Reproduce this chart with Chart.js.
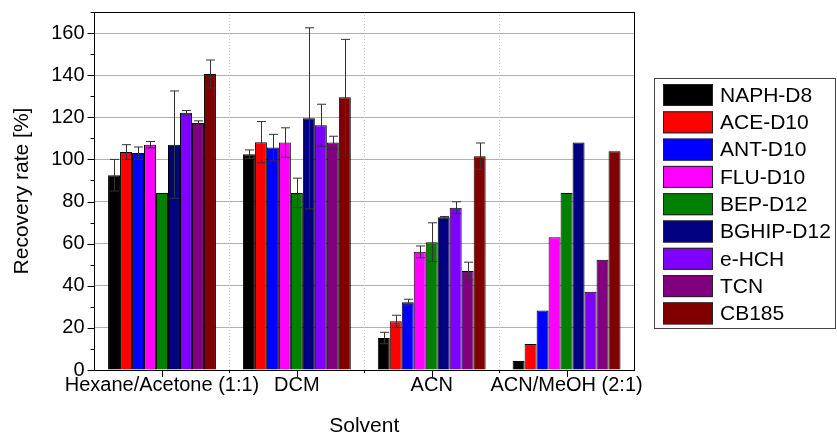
<!DOCTYPE html>
<html>
<head>
<meta charset="utf-8">
<script src="https://cdn.jsdelivr.net/npm/chart.js@4.4.0/dist/chart.umd.min.js"></script>
<style>
  html, body { margin: 0; padding: 0; background: #fff; }
  #wrap { width: 837px; height: 433px; }
</style>
</head>
<body>
<div id="wrap"><canvas id="stage"></canvas></div>
<script>
// solvents (x categories)
const solvents = ['Hexane/Acetone (1:1)', 'DCM', 'ACN', 'ACN/MeOH (2:1)'];
const compounds = ['NAPH-D8', 'ACE-D10', 'ANT-D10', 'FLU-D10', 'BEP-D12', 'BGHIP-D12', 'e-HCH', 'TCN', 'CB185'];
const colors = ['#000000', '#ff0000', '#0000ff', '#ff00ff', '#008000', '#000080', '#8000ff', '#800080', '#800000'];

// recovery rate [%] per solvent
const naph  = [92.5, 102.5, 15.2, 4.3];
const ace   = [103.5, 108.2, 23.1, 12.4];
const ant   = [103.0, 105.6, 32.2, 28.2];
const flu   = [107.0, 108.0, 56.1, 63.0];
const bep   = [84.0, 84.1, 60.7, 84.0];
const bghip = [107.0, 119.5, 72.5, 108.0];
const ehch  = [122.2, 116.2, 77.1, 37.1];
const tcn   = [117.3, 108.0, 47.0, 52.3];
const cb185 = [140.6, 129.5, 101.5, 103.9];

// standard deviations
const naphErr  = [7.5, 2.0, 2.7, 0];
const aceErr   = [3.5, 9.8, 2.9, 0];
const antErr   = [2.9, 6.3, 1.4, 0];
const fluErr   = [1.5, 7.0, 2.8, 0];
const bepErr   = [0, 7.0, 9.2, 0];
const bghipErr = [25.5, 43.0, 0.4, 0];
const ehchErr  = [1.0, 10.0, 2.8, 0];
const tcnErr   = [1.0, 3.0, 4.2, 0];
const cb185Err = [6.6, 27.5, 6.3, 0];

const yTicks = [0, 20, 40, 60, 80, 100, 120, 140, 160];

const values = [naph, ace, ant, flu, bep, bghip, ehch, tcn, cb185];
const errors = [naphErr, aceErr, antErr, fluErr, bepErr, bghipErr, ehchErr, tcnErr, cb185Err];

const FONT = '"Liberation Sans", Arial, sans-serif';

const datasets = compounds.map((c, i) => ({
  label: c,
  data: values[i],
  errors: errors[i],
  backgroundColor: colors[i],
  borderColor: '#000',
  borderWidth: 1,
  categoryPercentage: 0.8,
  barPercentage: 1.0
}));

// error bars, frame, ticks and boxed legend
const extras = {
  id: 'extras',
  beforeDatasetsDraw(chart) {
    const ctx = chart.ctx, x = chart.scales.x, a = chart.chartArea;
    ctx.save();
    ctx.strokeStyle = '#c8c8c8';
    ctx.lineWidth = 1;
    ctx.setLineDash([1, 2]);
    for (let i = 0; i < solvents.length - 1; i++) {
      const px = Math.round((x.getPixelForValue(i) + x.getPixelForValue(i + 1)) / 2) + 0.5;
      ctx.beginPath();
      ctx.moveTo(px, a.top);
      ctx.lineTo(px, a.bottom);
      ctx.stroke();
    }
    ctx.restore();
  },
  afterDatasetsDraw(chart) {
    const ctx = chart.ctx, y = chart.scales.y;
    ctx.save();
    ctx.strokeStyle = '#333';
    ctx.lineWidth = 1;
    chart.data.datasets.forEach((ds, di) => {
      const meta = chart.getDatasetMeta(di);
      meta.data.forEach((bar, j) => {
        const e = ds.errors[j];
        if (!e) return;
        const bx = Math.round(bar.x) + 0.5;
        const top = y.getPixelForValue(ds.data[j] + e);
        const bot = y.getPixelForValue(ds.data[j] - e);
        ctx.beginPath();
        ctx.moveTo(bx, top); ctx.lineTo(bx, bot);
        ctx.moveTo(bx - 4.5, top); ctx.lineTo(bx + 4.5, top);
        ctx.moveTo(bx - 4.5, bot); ctx.lineTo(bx + 4.5, bot);
        ctx.stroke();
      });
    });
    ctx.restore();
  },
  afterDraw(chart) {
    const ctx = chart.ctx, x = chart.scales.x, y = chart.scales.y, a = chart.chartArea;
    ctx.save();
    ctx.strokeStyle = '#000';
    ctx.lineWidth = 1;
    // frame
    ctx.beginPath();
    ctx.moveTo(a.left, a.top + 0.5); ctx.lineTo(a.right, a.top + 0.5);
    ctx.moveTo(a.right + 0.5, a.top); ctx.lineTo(a.right + 0.5, a.bottom);
    ctx.stroke();
    // y ticks
    ctx.beginPath();
    for (let v = 0; v <= 170; v += 10) {
      const py = Math.round(y.getPixelForValue(v)) + 0.5;
      const len = v % 20 === 0 ? 7 : 4;
      ctx.moveTo(a.left - len, py); ctx.lineTo(a.left, py);
    }
    // x ticks
    for (let i = 0; i < solvents.length; i++) {
      const px = Math.round(x.getPixelForValue(i)) + 0.5;
      ctx.moveTo(px, a.bottom); ctx.lineTo(px, a.bottom + 7);
      if (i < solvents.length - 1) {
        const bx = Math.round((x.getPixelForValue(i) + x.getPixelForValue(i + 1)) / 2) + 0.5;
        ctx.moveTo(bx, a.bottom); ctx.lineTo(bx, a.bottom + 3);
      }
    }
    ctx.stroke();

    // legend
    const lx = a.right + 20, ly = 78, lw = 182, lh = 250;
    ctx.strokeStyle = '#444';
    ctx.strokeRect(lx + 0.5, ly + 0.5, lw - 1, lh);
    ctx.font = '21px ' + FONT;
    ctx.textBaseline = 'middle';
    compounds.forEach((c, i) => {
      const top = ly + 6 + i * 27.3;
      ctx.fillStyle = colors[i];
      ctx.fillRect(lx + 9, top, 50, 22);
      ctx.strokeStyle = '#222';
      ctx.strokeRect(lx + 9.5, top + 0.5, 49, 21);
      ctx.fillStyle = '#000';
      ctx.fillText(c, lx + 66, top + 12);
    });
    ctx.restore();
  }
};

new Chart(document.getElementById('stage'), {
  type: 'bar',
  data: { labels: solvents, datasets: datasets },
  options: {
    responsive: true,
    maintainAspectRatio: false,
    animation: false,
    layout: { padding: { top: 12, right: 203, left: 10, bottom: -4 } },
    plugins: {
      legend: { display: false },
      tooltip: { enabled: false }
    },
    scales: {
      x: {
        grid: { display: false, drawTicks: false },
        border: { display: true, color: '#000', width: 1 },
        ticks: { color: '#000', padding: 3, autoSkip: false, maxRotation: 0, minRotation: 0, font: { size: 20, family: FONT } },
        title: { display: true, text: 'Solvent', color: '#000', padding: { top: 16, bottom: 0 }, font: { size: 21, lineHeight: 1.0, family: FONT } }
      },
      y: {
        min: 0,
        max: 170,
        afterBuildTicks: (s) => { s.ticks = yTicks.map(v => ({ value: v })); },
        afterFit: (s) => { s.paddingTop = 0; s.paddingBottom = 0; },
        grid: { color: '#b0b0b0', lineWidth: 1, drawTicks: false },
        border: { display: true, color: '#000', width: 1 },
        ticks: { color: '#000', padding: 10, font: { size: 20, family: FONT } },
        title: { display: true, text: 'Recovery rate [%]', color: '#000', padding: { top: 0, bottom: 6 }, font: { size: 21, family: FONT } }
      }
    }
  },
  plugins: [extras]
});
</script>
</body>
</html>
